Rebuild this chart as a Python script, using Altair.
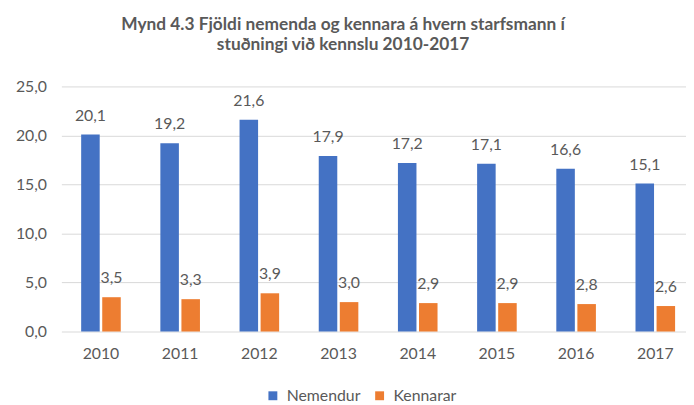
import altair as alt
import pandas as pd

years = ["2010", "2011", "2012", "2013", "2014", "2015", "2016", "2017"]
series = ["Nemendur", "Kennarar"]
nemendur = [20.1, 19.2, 21.6, 17.9, 17.2, 17.1, 16.6, 15.1]
kennarar = [3.5, 3.3, 3.9, 3.0, 2.9, 2.9, 2.8, 2.6]
colors = ["#4472C4", "#ED7D31"]
y_ticks = [0, 5, 10, 15, 20, 25]
title_lines = ["Mynd 4.3 Fjöldi nemenda og kennara á hvern starfsmann í",
               "stuðningi við kennslu 2010-2017"]

rows = []
for i, yr in enumerate(years):
    rows.append({"year": yr, "series": series[0], "value": nemendur[i]})
    rows.append({"year": yr, "series": series[1], "value": kennarar[i]})
df = pd.DataFrame(rows)

FONT = "Lato"
GRAY = "#595959"

base = alt.Chart(df).transform_calculate(
    label="replace(format(datum.value, '.1f'), '.', ',')"
)

x = alt.X("year:N", sort=years, title=None,
          scale=alt.Scale(range=[0, 641], paddingInner=0.5, paddingOuter=0.25),
          axis=alt.Axis(labelAngle=0, domain=False, ticks=False, labelPadding=14,
                        labelFont=FONT, labelFontSize=16, labelColor=GRAY))
xoff = alt.XOffset("series:N", sort=series, scale=alt.Scale(paddingInner=0.12))
y = alt.Y("value:Q", title=None,
          scale=alt.Scale(domain=[0, 25], nice=False),
          axis=alt.Axis(values=y_ticks, domain=False, ticks=False, labelPadding=15,
                        labelExpr="replace(format(datum.value, '.1f'), '.', ',')",
                        labelFont=FONT, labelFontSize=16, labelColor=GRAY,
                        gridColor="#d9d9d9", gridWidth=1))

bars = base.mark_bar().encode(
    x=x, xOffset=xoff, y=y,
    color=alt.Color("series:N", sort=series,
                    scale=alt.Scale(domain=series, range=colors),
                    legend=alt.Legend(title=None, orient="none", direction="horizontal",
                                      legendX=206, legendY=305,
                                      symbolType="square", symbolSize=81,
                                      symbolStrokeWidth=0, labelOffset=6,
                                      columnPadding=11,
                                      labelFont=FONT, labelFontSize=16,
                                      labelColor=GRAY)),
)

text = base.mark_text(dy=-14, baseline="alphabetic", align="center",
                      font=FONT, fontSize=16, color=GRAY).encode(
    x=x, xOffset=xoff, y=y, text="label:N"
)

chart = alt.layer(bars, text).properties(
    width=632, height=248,
    autosize=alt.AutoSizeParams(type="none"),
    padding={"left": 54, "top": 77, "right": 0, "bottom": 72},
    title=alt.TitleParams(text=title_lines, font=FONT, fontSize=17.5, fontWeight="bold",
                          color=GRAY, anchor="middle", dx=-31, offset=25,
                          lineHeight=21),
).configure_view(stroke=None)

chart.save("out.html", embed_options={"renderer": "svg", "actions": False})
